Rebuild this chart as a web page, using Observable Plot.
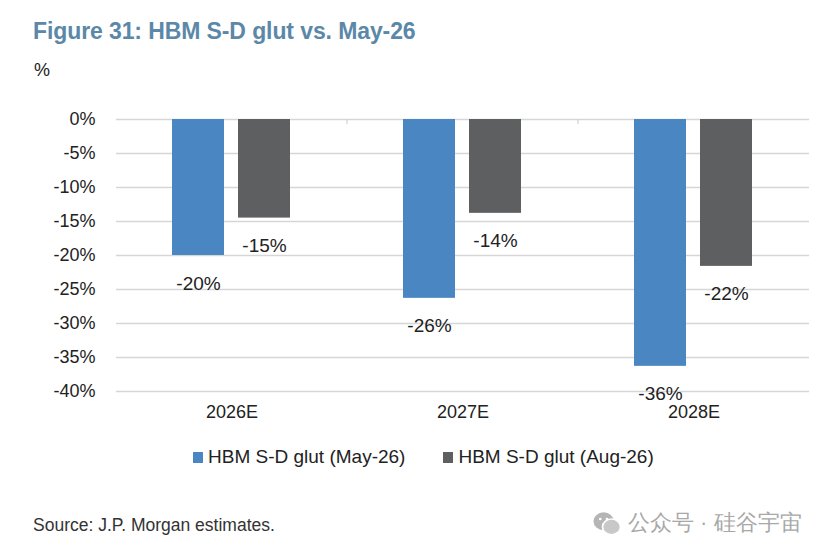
<!DOCTYPE html>
<html><head><meta charset="utf-8">
<script src="https://cdn.jsdelivr.net/npm/d3@7"></script>
<script src="https://cdn.jsdelivr.net/npm/@observablehq/plot@0.6"></script>
<style>
body{margin:0;background:#fff;font-family:"Liberation Sans",Arial,sans-serif;}
#wrap{position:relative;width:836px;height:558px;overflow:hidden;}
.abs{position:absolute;white-space:nowrap;}
#title{left:33px;top:18px;font-size:23px;font-weight:bold;color:#5b88a8;letter-spacing:-0.1px;}
#unit{left:34px;top:60px;font-size:18px;color:#222;}
#legend{left:193px;top:446px;font-size:19px;color:#222;display:flex;gap:0;}
.li{display:flex;align-items:center;margin-right:38px;}
.sw{width:10px;height:11px;margin-right:5px;}
#source{left:33px;top:515px;font-size:17.5px;color:#333;}
#wm{left:592px;top:508px;font-size:22px;color:#a8a8a8;display:flex;align-items:center;}
#chart{position:absolute;left:0;top:0;}
</style></head>
<body><div id="wrap">
<div id="chart"></div>
<div id="title" class="abs">Figure 31: HBM S-D glut vs. May-26</div>
<div id="unit" class="abs">%</div>
<div id="legend" class="abs"></div>
<div id="source" class="abs">Source: J.P. Morgan estimates.</div>
<div id="wm" class="abs"><svg width="30" height="27" viewBox="0 0 26 24" style="margin-right:6px"><ellipse cx="10" cy="10" rx="9" ry="8" fill="#b5b5b5"/><ellipse cx="17" cy="15" rx="8" ry="7" fill="#c8c8c8" stroke="#fff" stroke-width="1.5"/><circle cx="7" cy="8" r="1.2" fill="#fff"/><circle cx="13" cy="8" r="1.2" fill="#fff"/></svg>公众号 · 硅谷宇宙</div>
</div>
<script>
const years = ["2026E", "2027E", "2028E"];
const seriesNames = ["HBM S-D glut (May-26)", "HBM S-D glut (Aug-26)"];
const mayValues = [-20.0, -26.3, -36.3];
const augValues = [-14.5, -13.8, -21.6];
const mayLabels = ["-20%", "-26%", "-36%"];
const augLabels = ["-15%", "-14%", "-22%"];
const yTicks = [0, -5, -10, -15, -20, -25, -30, -35, -40];
const colors = ["#4a86c1", "#5e5f61"];

const rows = [];
years.forEach((yr, i) => {
  rows.push({year: yr, series: seriesNames[0], value: mayValues[i], label: mayLabels[i]});
  rows.push({year: yr, series: seriesNames[1], value: augValues[i], label: augLabels[i]});
});

const plot = Plot.plot({
  width: 836,
  height: 430,
  marginTop: 119,
  marginBottom: 39,
  marginLeft: 116,
  marginRight: 27,
  style: {fontFamily: '"Liberation Sans", Arial, sans-serif', fontSize: "18px", color: "#222", background: "transparent"},
  fx: {domain: years, padding: 0, label: null, tickSize: 0, tickPadding: 14, axis: "bottom"},
  x: {domain: seriesNames, paddingInner: 0.212, paddingOuter: 0.856, axis: null},
  y: {domain: [-40, 0], ticks: yTicks, tickFormat: d => d + "%", label: null, tickSize: 0, tickPadding: 21},
  color: {domain: seriesNames, range: colors},
  marks: [
    Plot.ruleY(yTicks, {stroke: "#d6d6d6", strokeWidth: 1.5}),
    Plot.barY(rows, {fx: "year", x: "series", y: "value", fill: "series"}),
    Plot.text(rows, {fx: "year", x: "series", y: "value", text: "label", dy: 28, fontSize: 19, fill: "#222"})
  ]
});
document.getElementById("chart").appendChild(plot);

// small category separator ticks on the zero line
const svg = d3.select(plot);
const fxs = plot.scale("fx");
const ys = plot.scale("y");
years.slice(1).forEach(yr => {
  const xpos = fxs.apply(yr);
  svg.append("line").attr("x1", xpos).attr("x2", xpos)
    .attr("y1", ys.apply(0)).attr("y2", ys.apply(0) + 5)
    .attr("stroke", "#d0d0d0").attr("stroke-width", 1.2);
});

const leg = document.getElementById("legend");
seriesNames.forEach((s, i) => {
  const d = document.createElement("div");
  d.className = "li";
  d.innerHTML = `<div class="sw" style="background:${colors[i]}"></div><span>${s}</span>`;
  leg.appendChild(d);
});
</script>
</body></html>
